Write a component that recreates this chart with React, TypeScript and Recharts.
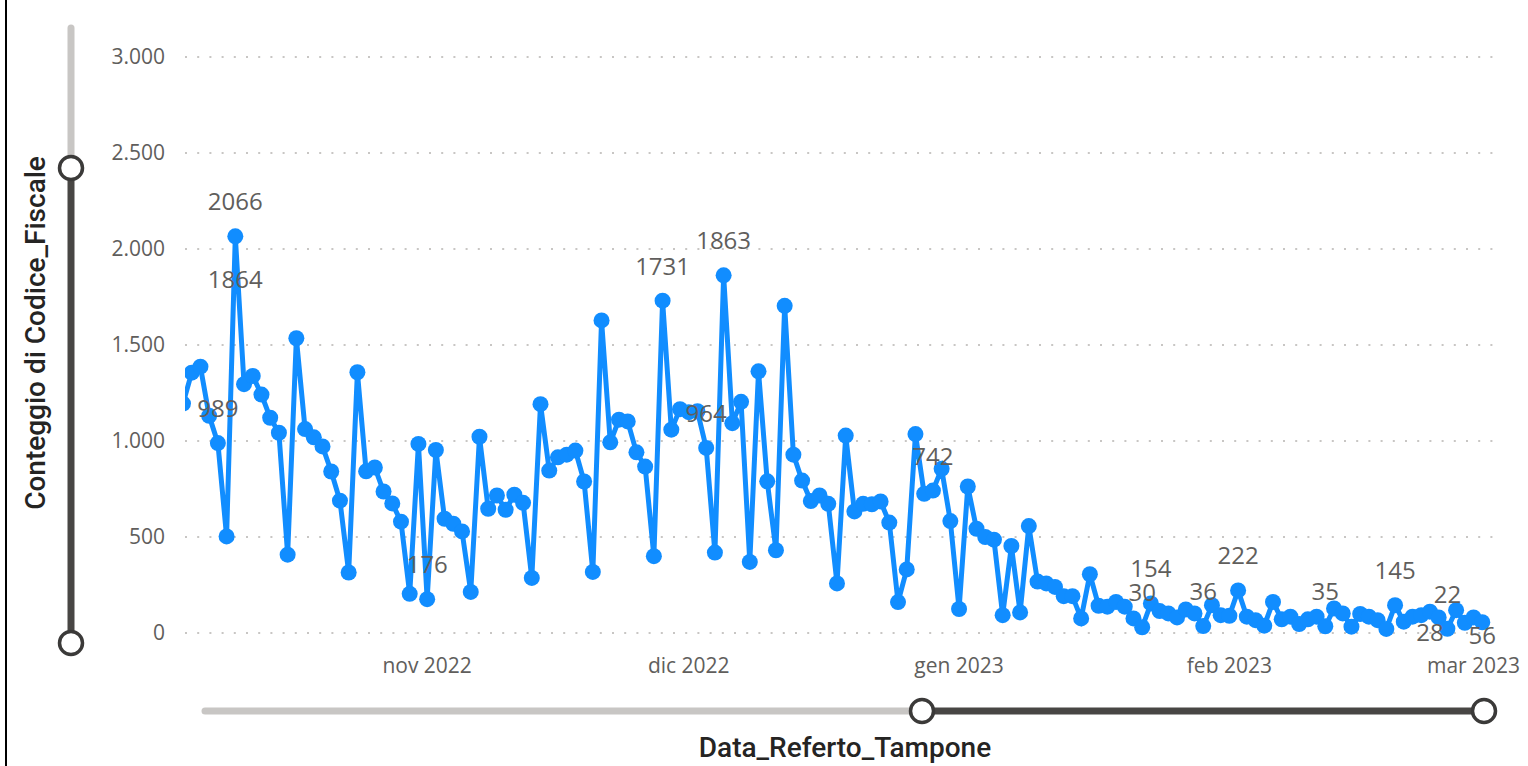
import { CartesianGrid, LabelList, Line, LineChart, XAxis, YAxis } from 'recharts';

// first day shown on the axis; one value per day from here on
const startDate = '2022-10-04';

const counts = [
  1195, 1356, 1387, 1131, 989, 503, 2066, 1296, 1339, 1242,
  1121, 1043, 408, 1535, 1062, 1019, 972, 841, 689, 315,
  1358, 842, 862, 737, 675, 580, 204, 985, 176, 953,
  595, 569, 529, 214, 1022, 647, 716, 642, 720, 678,
  287, 1192, 846, 915, 929, 950, 789, 318, 1628, 993,
  1111, 1102, 941, 867, 400, 1731, 1059, 1166, 1150, 1155,
  964, 419, 1863, 1093, 1204, 370, 1363, 790, 431, 1704,
  929, 794, 687, 716, 673, 258, 1028, 633, 673, 670,
  685, 575, 161, 331, 1036, 725, 742, 855, 583, 125,
  763, 543, 500, 486, 93, 453, 107, 557, 268, 258,
  240, 192, 192, 76, 306, 142, 137, 162, 137, 76,
  30, 154, 114, 102, 81, 123, 102, 36, 145, 93,
  90, 222, 85, 67, 38, 162, 71, 85, 47, 71,
  85, 35, 128, 102, 33, 99, 85, 67, 21, 145,
  59, 85, 93, 111, 81, 22, 119, 53, 81, 56,
];

const tickDates = ['2022-11-01', '2022-12-01', '2023-01-01', '2023-02-01', '2023-03-01'];
const tickLabels = ['nov 2022', 'dic 2022', 'gen 2023', 'feb 2023', 'mar 2023'];
const yTicks = [0, 500, 1000, 1500, 2000, 2500, 3000];

// points whose value is printed above them
const labelAboveAt = [4, 6, 28, 55, 60, 62, 86, 110, 111, 117, 121, 131, 139, 145];
// extra labels Power BI printed under some points
const labelBelowAt = [6, 143, 149];
const labelBelowText = ['1864', '28', '56'];

const dayOf = (iso: string) => (Date.parse(iso) - Date.parse(startDate)) / 86400000;
const tickDays = tickDates.map(dayOf);

const rows = counts.map((count, i) => {
  const b = labelBelowAt.indexOf(i);
  return {
    day: i,
    count,
    above: labelAboveAt.includes(i) ? count : null,
    below: b >= 0 ? labelBelowText[b] : null,
  };
});

const W = 1528;
const H = 766;
const PLOT_LEFT = 185;
const PLOT_RIGHT = 1497;
const PLOT_TOP = 57;
const PLOT_BOTTOM = 633;
const Y_AXIS_W = 80;
const X_AXIS_H = 40;

const BLUE = '#118DFF';
const TEXT = '#605E5C';
const BELOW_DY: Record<string, number> = { '1864': 52, '28': 29, '56': 22 };

const fmtThousands = (v: number) => String(v).replace(/\B(?=(\d{3})+(?!\d))/g, '.');

const pos = (props: any) => ({
  x: props.x ?? props.viewBox?.x,
  y: props.y ?? props.viewBox?.y,
});

const renderAbove = (props: any) => {
  if (props.value == null || props.value === '') return null;
  const { x, y } = pos(props);
  return (
    <text x={x} y={y - 26} textAnchor="middle" fontSize={24} fill={TEXT} fontFamily="Open Sans">
      {props.value}
    </text>
  );
};

const renderBelow = (props: any) => {
  if (props.value == null || props.value === '') return null;
  const { x, y } = pos(props);
  return (
    <text
      x={x}
      y={y + (BELOW_DY[props.value] ?? 24)}
      textAnchor="middle"
      fontSize={24}
      fill={TEXT}
      fontFamily="Open Sans"
    >
      {props.value}
    </text>
  );
};

function Slider({ x1, y1, x2, y2, split }: { x1: number; y1: number; x2: number; y2: number; split: number }) {
  const vertical = x1 === x2;
  const sx = vertical ? x1 : split;
  const sy = vertical ? split : y1;
  return (
    <g>
      <line x1={x1} y1={y1} x2={sx} y2={sy} stroke="#C8C6C4" strokeWidth={7} strokeLinecap="round" />
      <line x1={sx} y1={sy} x2={x2} y2={y2} stroke="#484644" strokeWidth={7} />
      <circle cx={sx} cy={sy} r={11.5} fill="#fff" stroke="#3B3A39" strokeWidth={3.5} />
      <circle cx={x2} cy={y2} r={11.5} fill="#fff" stroke="#3B3A39" strokeWidth={3.5} />
    </g>
  );
}

export default function App() {
  return (
    <div style={{ position: 'absolute', left: 0, top: 0, width: W, height: H, overflow: 'hidden', background: '#fff' }}>
      <div style={{ position: 'absolute', left: 5, top: 0, width: 2, height: H, background: '#000' }} />
      <div style={{ position: 'absolute', left: 0, top: 0 }}>
        <LineChart
          width={W}
          height={H}
          data={rows}
          margin={{
            top: PLOT_TOP,
            right: W - PLOT_RIGHT,
            bottom: H - PLOT_BOTTOM - X_AXIS_H,
            left: PLOT_LEFT - Y_AXIS_W,
          }}
        >
          <CartesianGrid vertical={false} stroke="#C8C6C4" strokeWidth={2} strokeDasharray="2 10.2" />
          <XAxis
            dataKey="day"
            type="number"
            domain={[0.23, 150.69]}
            allowDataOverflow
            ticks={tickDays}
            interval={0}
            tickFormatter={(v: number) => tickLabels[tickDays.indexOf(v)] ?? ''}
            axisLine={false}
            tickLine={false}
            height={X_AXIS_H}
            tickMargin={19}
            tick={{ fontSize: 21, fill: TEXT, fontFamily: 'Open Sans' }}
          />
          <YAxis
            type="number"
            domain={[0, 3000]}
            ticks={yTicks}
            interval={0}
            width={Y_AXIS_W}
            axisLine={false}
            tickLine={false}
            tickMargin={14}
            tickFormatter={fmtThousands}
            tick={{ fontSize: 21, fill: TEXT, fontFamily: 'Open Sans' }}
          />
          <Line
            dataKey="count"
            type="linear"
            stroke={BLUE}
            strokeWidth={5}
            dot={{ r: 8, fill: BLUE, stroke: BLUE, strokeWidth: 0 }}
            activeDot={false}
            isAnimationActive={false}
          >
            <LabelList dataKey="above" content={renderAbove} />
            <LabelList dataKey="below" content={renderBelow} />
          </Line>
        </LineChart>
      </div>
      <svg width={W} height={H} style={{ position: 'absolute', left: 0, top: 0, pointerEvents: 'none' }}>
        <Slider x1={71} y1={28} x2={71} y2={643} split={168} />
        <Slider x1={205} y1={711} x2={1484} y2={711} split={922} />
        <text
          x={35}
          y={333}
          transform="rotate(-90 35 333)"
          textAnchor="middle"
          dominantBaseline="central"
          fontSize={28}
          fontWeight={500}
          fontFamily="Roboto"
          fill="#252423"
        >
          Conteggio di Codice_Fiscale
        </text>
        <text x={845} y={757} textAnchor="middle" fontSize={28} fontWeight={500} fontFamily="Roboto" fill="#252423">
          Data_Referto_Tampone
        </text>
      </svg>
    </div>
  );
}
